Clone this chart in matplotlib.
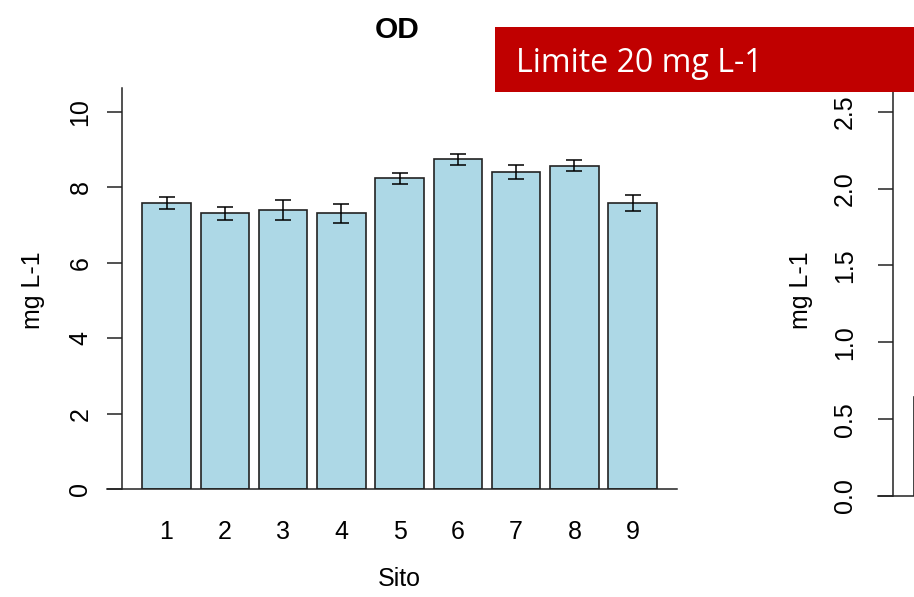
import matplotlib
matplotlib.use("Agg")
import matplotlib.pyplot as plt
from matplotlib.patches import Rectangle
from matplotlib.lines import Line2D

# ---- data ----
sites = ["1", "2", "3", "4", "5", "6", "7", "8", "9"]
od_mean = [7.58, 7.32, 7.40, 7.32, 8.24, 8.75, 8.41, 8.58, 7.58]
od_err = [0.16, 0.17, 0.27, 0.25, 0.15, 0.145, 0.19, 0.15, 0.21]
left_yticks = [0, 2, 4, 6, 8, 10]
right_yticks = [0.0, 0.5, 1.0, 1.5, 2.0, 2.5]
right_first_bar = [0.645]
title = "OD"
xlabel = "Sito"
ylabel = "mg L-1"
banner = "Limite 20 mg L-1"

W, H = 914, 597
plt.rcParams['font.family'] = ['Liberation Sans', 'DejaVu Sans']
fig = plt.figure(figsize=(W / 100, H / 100), dpi=100)
fig.patch.set_facecolor("white")

def px_axes(l, r, top, bottom):
    return fig.add_axes([l / W, 1 - bottom / H, (r - l) / W, (bottom - top) / H])

bar_fill = "#ADD8E6"
edge = "#222222"
centers = [0.7 + 1.2 * i for i in range(len(sites))]

# ---- left chart ----
ax = px_axes(121.7, 677.5, 88, 489)
ax.set_xlim(-0.224, 11.224)
ax.set_ylim(0, 10.64)
ax.bar(centers, od_mean, width=1.0, color=bar_fill, edgecolor=edge, linewidth=1.2, zorder=2)
ax.errorbar(centers, od_mean, yerr=od_err, fmt="none", ecolor="black",
            elinewidth=1.1, capsize=5.5, capthick=1.1, zorder=3)
for s in ["top", "right", "bottom"]:
    ax.spines[s].set_visible(False)
ax.spines["left"].set_linewidth(1.1)
ax.spines["left"].set_color("#222222")
ax.add_line(Line2D([-0.026, 0.9985], [0, 0], transform=ax.transAxes, color="#222222",
                   lw=1.1, clip_on=False, zorder=4))
ax.set_yticks(left_yticks)
ax.set_yticklabels([str(v) for v in left_yticks])
ax.tick_params(axis="y", length=10.6, width=1.1, pad=10.5, labelsize=18,
               labelrotation=90, color="#222222")
for lab in ax.get_yticklabels():
    lab.set_va("center")
ax.set_xticks(centers)
ax.set_xticklabels(sites)
ax.tick_params(axis="x", length=0, pad=22, labelsize=18)

fig.text(397 / W, 1 - 30 / H, title, ha="center", va="center", fontsize=21.5, fontweight="bold")
fig.text(399 / W, 1 - 579 / H, xlabel, ha="center", va="center", fontsize=18)
fig.text(33 / W, 1 - 290 / H, ylabel, ha="center", va="center", fontsize=18, rotation=90)

# ---- right chart (partially visible) ----
ax2 = px_axes(893, 893 + 557.5, 92, 496)
ax2.set_xlim(-0.224, 11.224)
ax2.set_ylim(0, (496 - 92) / 153.7)
ax2.bar([0.7], right_first_bar, width=1.0, color=bar_fill, edgecolor=edge, linewidth=1.2)
for s in ["top", "right", "bottom"]:
    ax2.spines[s].set_visible(False)
ax2.spines["left"].set_linewidth(1.1)
ax2.spines["left"].set_color("#222222")
ax2.add_line(Line2D([-0.027, 1.0], [0, 0], transform=ax2.transAxes, color="#222222",
                    lw=1.1, clip_on=False))
ax2.set_yticks(right_yticks)
ax2.set_yticklabels([f"{v:.1f}" for v in right_yticks])
ax2.tick_params(axis="y", length=11, width=1.1, pad=15, labelsize=18,
                labelrotation=90, color="#222222")
for lab in ax2.get_yticklabels():
    lab.set_va("center")
ax2.set_xticks([])
fig.text(801 / W, 1 - 290 / H, ylabel, ha="center", va="center", fontsize=18, rotation=90)

# ---- banner ----
fig.add_artist(Rectangle((495 / W, 1 - 92 / H), (W - 495 + 5) / W, 65 / H,
                         transform=fig.transFigure, facecolor="#C00000",
                         edgecolor="none", zorder=10))
t = fig.text(516 / W, 1 - 71.7 / H, banner, ha="left", va="baseline", color="white",
             fontsize=22, family=["Open Sans", "DejaVu Sans"], zorder=11)
r = fig.canvas.get_renderer()
w = t.get_window_extent(renderer=r).width
t.set_fontsize(22 * 247 / w)

fig.savefig("out.png", dpi=100)
